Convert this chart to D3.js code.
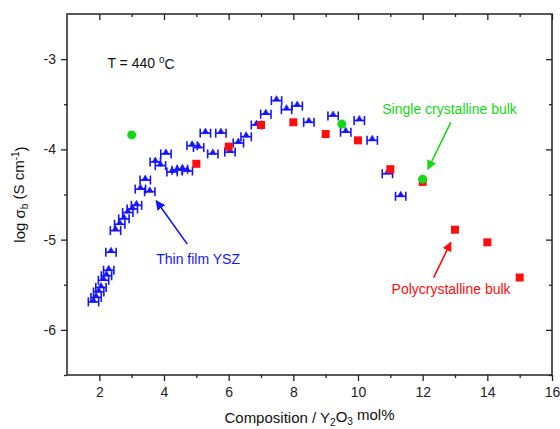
<!DOCTYPE html>
<html>
<head>
<meta charset="utf-8">
<script src="https://cdn.jsdelivr.net/npm/d3@7"></script>
<style>
  body { margin: 0; background: #fff; }
  text { font-family: "Liberation Sans", Arial, sans-serif; }
</style>
</head>
<body>
<div id="chart"></div>
<script>
// thin film YSZ (blue, horizontal error bars)
const filmX = [1.82, 1.90, 1.98, 2.05, 2.13, 2.22, 2.29, 2.36, 2.50, 2.63, 2.76, 2.88, 3.02, 3.15,
  3.27, 3.42, 3.56, 3.73, 3.89, 4.06, 4.25, 4.41, 4.57, 4.72, 4.87, 5.07, 5.28, 5.51, 5.76, 6.04,
  6.30, 6.54, 6.86, 7.15, 7.48, 7.79, 8.12, 8.48, 9.23, 9.62, 10.04, 10.44, 10.91, 11.32];
const filmY = [-5.69, -5.64, -5.58, -5.53, -5.45, -5.40, -5.34, -5.14, -4.90, -4.83, -4.77, -4.70, -4.66, -4.62,
  -4.44, -4.34, -4.47, -4.14, -4.18, -4.05, -4.25, -4.23, -4.22, -4.24, -3.96, -3.98, -3.82, -4.05, -3.82, -4.03,
  -3.93, -3.86, -3.73, -3.61, -3.46, -3.56, -3.52, -3.70, -3.63, -3.81, -3.68, -3.90, -4.27, -4.52];
const filmErr = 0.16;

// polycrystalline bulk (red squares)
const polyX = [5, 6, 7, 8, 9, 10, 11, 12, 13, 14, 15];
const polyY = [-4.16, -3.97, -3.73, -3.70, -3.83, -3.90, -4.22, -4.36, -4.89, -5.03, -5.42];

// single crystalline bulk (green circles)
const singleX = [3.0, 9.5, 12.0];
const singleY = [-3.84, -3.72, -4.33];

const xTicks = [2, 4, 6, 8, 10, 12, 14, 16];
const xMinor = [3, 5, 7, 9, 11, 13, 15];
const yTicks = [-3, -4, -5, -6];
const yMinor = [-3.5, -4.5, -5.5, -6.5];

const width = 560, height = 429;
const margin = {top: 14, right: 8, bottom: 54, left: 67};
const iw = width - margin.left - margin.right;
const ih = height - margin.top - margin.bottom;

const blue = '#1414ff', red = '#ff0d0d', green = '#14d814';

const svg = d3.select('#chart').append('svg')
    .attr('width', width)
    .attr('height', height);

const g = svg.append('g')
    .attr('transform', `translate(${margin.left},${margin.top})`);

const x = d3.scaleLinear().domain([1, 16]).range([0, iw]);
const y = d3.scaleLinear().domain([-6.5, -2.5]).range([ih, 0]);

// axes
const axisColor = '#222';
const fmt = d => String(d);
function styleAxis(sel) {
  sel.select('.domain').remove();
  sel.selectAll('line').attr('stroke', axisColor).attr('stroke-width', 1.3);
  sel.selectAll('text').style('font-size', '14px').attr('fill', '#222');
}

g.append('g').attr('transform', `translate(0,${ih})`)
    .call(d3.axisBottom(x).tickValues(xTicks).tickSize(6).tickPadding(6).tickFormat(fmt))
    .call(styleAxis);
g.append('g').attr('transform', `translate(0,${ih})`)
    .call(d3.axisBottom(x).tickValues(xMinor).tickSize(3).tickFormat(''))
    .call(styleAxis);
g.append('g')
    .call(d3.axisLeft(y).tickValues(yTicks).tickSize(6).tickPadding(5).tickFormat(fmt))
    .call(styleAxis);
g.append('g')
    .call(d3.axisLeft(y).tickValues(yMinor).tickSize(3).tickFormat(''))
    .call(styleAxis);
// mirrored ticks (inward) on right and top
g.append('g').attr('transform', `translate(${iw},0)`)
    .call(d3.axisLeft(y).tickValues(yTicks).tickSize(6).tickFormat(''))
    .call(styleAxis);
g.append('g').attr('transform', `translate(${iw},0)`)
    .call(d3.axisLeft(y).tickValues(yMinor).tickSize(3).tickFormat(''))
    .call(styleAxis);
g.append('g')
    .call(d3.axisBottom(x).tickValues(xTicks).tickSize(6).tickFormat(''))
    .call(styleAxis);
g.append('g')
    .call(d3.axisBottom(x).tickValues(xMinor).tickSize(3).tickFormat(''))
    .call(styleAxis);

g.append('rect')
    .attr('width', iw).attr('height', ih)
    .attr('fill', 'none').attr('stroke', axisColor).attr('stroke-width', 1.5);

// thin film points with horizontal error bars
const film = filmX.map((d, i) => ({x: d, y: filmY[i]}));
const fg = g.selectAll('.film').data(film).enter().append('g')
    .attr('transform', d => `translate(${x(d.x)},${y(d.y)})`)
    .attr('stroke', blue).attr('stroke-width', 1.6).attr('fill', blue);
fg.append('line')
    .attr('x1', d => x(d.x - filmErr) - x(d.x)).attr('x2', d => x(d.x + filmErr) - x(d.x));
fg.append('line')
    .attr('x1', d => x(d.x - filmErr) - x(d.x)).attr('x2', d => x(d.x - filmErr) - x(d.x))
    .attr('y1', -4.5).attr('y2', 4.5);
fg.append('line')
    .attr('x1', d => x(d.x + filmErr) - x(d.x)).attr('x2', d => x(d.x + filmErr) - x(d.x))
    .attr('y1', -4.5).attr('y2', 4.5);
fg.append('path')
    .attr('d', d3.symbol(d3.symbolTriangle, 16))
    .attr('stroke-width', 0.6)
    .attr('transform', 'translate(0,-1.5)');

// polycrystalline bulk
g.selectAll('.poly').data(polyX).enter().append('rect')
    .attr('x', d => x(d) - 4).attr('y', (d, i) => y(polyY[i]) - 4)
    .attr('width', 8).attr('height', 8)
    .attr('fill', red);

// single crystalline bulk
g.selectAll('.single').data(singleX).enter().append('circle')
    .attr('cx', d => x(d)).attr('cy', (d, i) => y(singleY[i]))
    .attr('r', 4.5)
    .attr('fill', green);

// annotations
const defs = svg.append('defs');
[['blue', blue], ['red', red], ['green', green]].forEach(([n, c]) => {
  defs.append('marker')
      .attr('id', 'arr-' + n)
      .attr('viewBox', '0 0 10 10').attr('refX', 9).attr('refY', 5)
      .attr('markerWidth', 6).attr('markerHeight', 6)
      .attr('orient', 'auto')
      .append('path').attr('d', 'M0,0L10,5L0,10z').attr('fill', c);
});

const notes = [
  {text: 'Thin film YSZ', color: blue, tx: 3.76, ty: -5.22, anchor: 'start',
    ax1: 4.72, ay1: -5.05, ax2: 3.76, ay2: -4.57, m: 'blue'},
  {text: 'Single crystalline bulk', color: green, tx: 10.75, ty: -3.55, anchor: 'start',
    ax1: 12.87, ay1: -3.70, ax2: 12.16, ay2: -4.22, m: 'green'},
  {text: 'Polycrystalline bulk', color: red, tx: 14.72, ty: -5.55, anchor: 'end',
    ax1: 12.34, ay1: -5.42, ax2: 12.87, ay2: -5.03, m: 'red'}
];
notes.forEach(n => {
  g.append('line')
      .attr('x1', x(n.ax1)).attr('y1', y(n.ay1))
      .attr('x2', x(n.ax2)).attr('y2', y(n.ay2))
      .attr('stroke', n.color).attr('stroke-width', 1.6)
      .attr('marker-end', `url(#arr-${n.m})`);
  g.append('text')
      .attr('x', x(n.tx)).attr('y', y(n.ty)).attr('dy', '0.35em')
      .attr('text-anchor', n.anchor)
      .attr('fill', n.color)
      .style('font-size', '14px')
      .text(n.text);
});

const tLabel = g.append('text')
    .attr('x', x(2.25)).attr('y', y(-3.04)).attr('dy', '0.35em')
    .style('font-size', '14px').attr('fill', '#111');
tLabel.append('tspan').text('T = 440 ');
tLabel.append('tspan').attr('dy', '-0.45em').style('font-size', '10px').text('o');
tLabel.append('tspan').attr('dy', '0.45em').text('C');

// axis titles
const xl = svg.append('text')
    .attr('x', margin.left + iw / 2).attr('y', 423)
    .attr('text-anchor', 'middle')
    .style('font-size', '15px').attr('fill', '#111');
xl.append('tspan').text('Composition / Y');
xl.append('tspan').attr('dy', '0.3em').style('font-size', '10px').text('2');
xl.append('tspan').attr('dy', '-0.3em').text('O');
xl.append('tspan').attr('dy', '0.3em').style('font-size', '10px').text('3');
xl.append('tspan').attr('dy', '-0.3em').text(' mol%');

const yl = svg.append('text')
    .attr('transform', `translate(25,${margin.top + y(-4.5)}) rotate(-90)`)
    .attr('text-anchor', 'middle')
    .style('font-size', '15px').attr('fill', '#111');
yl.append('tspan').text('log σ');
yl.append('tspan').attr('dy', '0.3em').style('font-size', '10px').text('b');
yl.append('tspan').attr('dy', '-0.3em').text(' (S cm');
yl.append('tspan').attr('dy', '-0.45em').style('font-size', '10px').text('-1');
yl.append('tspan').attr('dy', '0.45em').text(')');
</script>
</body>
</html>
